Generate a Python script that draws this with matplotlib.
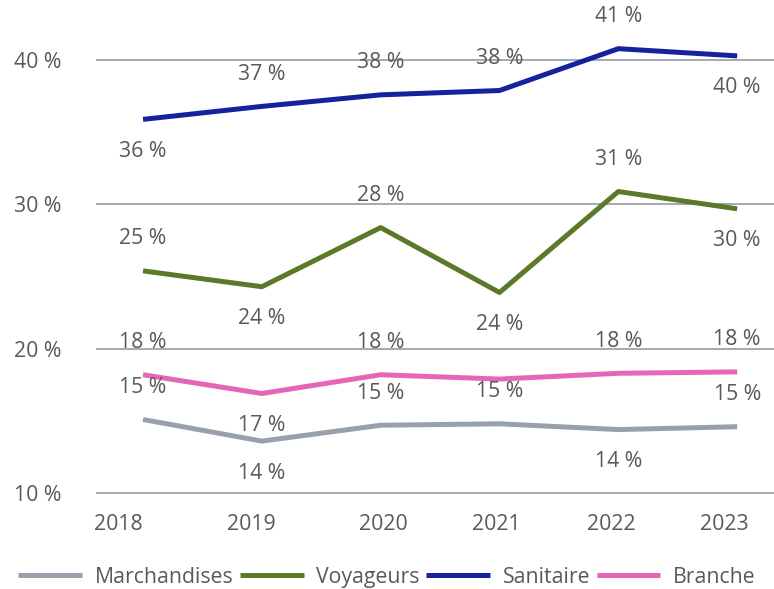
import matplotlib
matplotlib.use("Agg")
import matplotlib.pyplot as plt

plt.rcParams['font.family'] = ['Open Sans', 'DejaVu Sans']

years = ["2018", "2019", "2020", "2021", "2022", "2023"]
marchandises = [15.1, 13.6, 14.7, 14.8, 14.4, 14.6]
voyageurs = [25.4, 24.3, 28.4, 23.9, 30.9, 29.7]
sanitaire = [35.9, 36.8, 37.6, 37.9, 40.8, 40.3]
branche = [18.2, 16.9, 18.2, 17.9, 18.3, 18.4]
yticks = [10, 20, 30, 40]

# where each data label sits: 'a' above, 'b' below, None = hidden
series = [
    ("Marchandises", marchandises, "#98a1ab", ['a', 'b', 'a', 'a', 'b', 'a']),
    ("Voyageurs", voyageurs, "#5b7a29", ['a', 'b', 'a', 'b', 'a', 'b']),
    ("Sanitaire", sanitaire, "#15229b", ['b', 'a', 'a', 'a', 'a', 'b']),
    ("Branche", branche, "#e466b8", ['a', 'b', 'a', None, 'a', 'a']),
]

txt = "#595959"
fs = 15.3

fig = plt.figure(figsize=(7.74, 5.89), dpi=100)
ax = fig.add_axes([0.124, 0.158, 0.876, 0.801])

x = list(range(len(years)))
for name, vals, color, pos in series:
    ax.plot(x, vals, color=color, lw=3.6, label=name, solid_capstyle='butt', zorder=3)
    for xi, v, p in zip(x, vals, pos):
        if p is None:
            continue
        off = 23 if p == 'a' else -23
        ax.annotate(f"{round(v)} %", (xi, v), xytext=(0, off), textcoords='offset points',
                    ha='center', va='center', fontsize=fs, color=txt, zorder=4)

ax.set_xlim(-0.396, 5.31)
ax.set_ylim(9.8, 42.5)
ax.set_yticks(yticks)
ax.set_yticklabels([f"{t} %" for t in yticks])
ax.yaxis.grid(True, color="#9aa3ad", lw=1.3)
ax.set_axisbelow(True)

# category labels in the source sit a bit off the points
label_shift = [-0.21, -0.09, 0.02, -0.03, -0.06, -0.11]
ax.set_xticks([xi + s for xi, s in zip(x, label_shift)])
ax.set_xticklabels(years)

ax.tick_params(axis='both', length=0, labelsize=fs, labelcolor=txt)
ax.tick_params(axis='y', pad=25)
ax.tick_params(axis='x', pad=13)
for s in ax.spines.values():
    s.set_visible(False)

fig.legend(loc='center', bbox_to_anchor=(0.5, 0.02), ncol=4, frameon=False,
           fontsize=fs, labelcolor=txt, handlelength=3.0, handletextpad=0.6,
           columnspacing=0.3, borderaxespad=0)

fig.savefig("out.png", dpi=100)
